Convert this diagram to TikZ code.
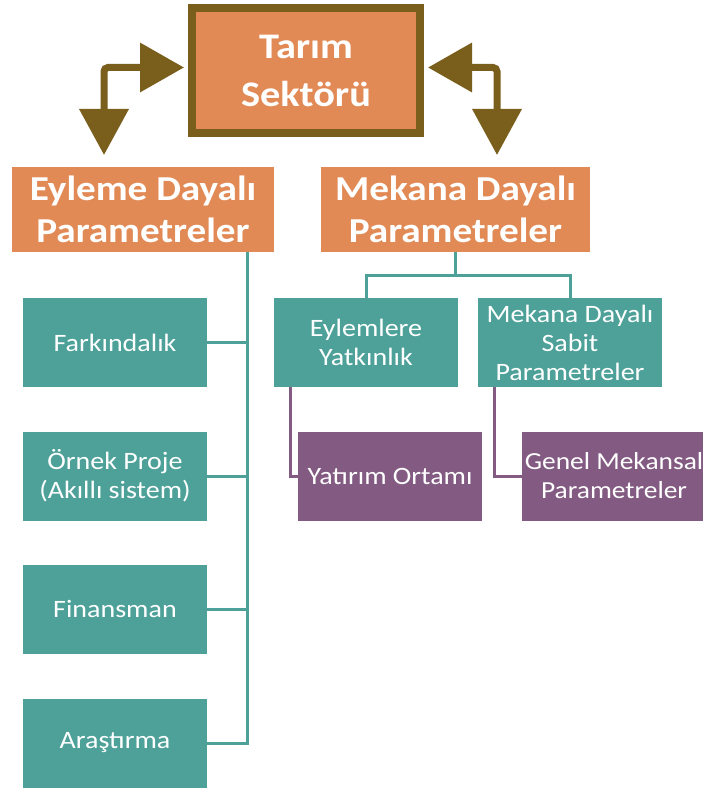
\documentclass[tikz,border=0pt]{standalone}
\usepackage{fontspec}
\setmainfont[FakeStretch=1.12]{Carlito}
\usetikzlibrary{arrows.meta}
\definecolor{orng}{HTML}{E28A55}
\definecolor{brwn}{HTML}{7A5E1C}
\definecolor{tealc}{HTML}{4DA199}
\definecolor{purp}{HTML}{835B82}
\begin{document}
\begin{tikzpicture}[x=1pt,y=-1pt,
  topbox/.style={draw=brwn, line width=8pt, fill=orng, text=white, align=center, inner sep=0pt,
    minimum width=228pt, minimum height=125pt, font=\bfseries\fontsize{36}{48}\selectfont},
  obox/.style={fill=orng, text=white, align=center, inner sep=0pt, minimum height=85pt,
    font=\bfseries\fontsize{35}{42}\selectfont},
  tbox/.style={fill=tealc, text=white, align=center, inner sep=0pt, minimum width=184pt,
    minimum height=89pt, font=\fontsize{25}{29}\selectfont},
  pbox/.style={fill=purp, text=white, align=center, inner sep=0pt, minimum width=184pt,
    minimum height=89pt, font=\fontsize{25}{29}\selectfont},
  tline/.style={draw=tealc, line width=3pt},
  pline/.style={draw=purp, line width=3pt},
  barrow/.style={draw=brwn, line width=7pt, rounded corners=4pt,
    {Triangle[length=44pt,width=48pt]}-{Triangle[length=46pt,width=48pt]}}
]
\useasboundingbox (0,0) rectangle (702,791);

\node[topbox] (top) at (306,70.5) {Tarım\\Sektörü};

\node[obox, minimum width=262pt] (eyl) at (143,209.5) {Eyleme Dayalı\\Parametreler};
\node[obox, minimum width=269pt] (mek) at (455.5,209.5) {Mekana Dayalı\\Parametreler};

% brown double arrows
\coordinate (la) at ([xshift=-4pt,yshift=3pt]top.west);
\coordinate (lt) at (104,155);
\coordinate (ra) at ([xshift=4pt,yshift=3pt]top.east);
\coordinate (rt) at (497,155);
\draw[barrow] (la) -| (lt);
\draw[barrow] (ra) -| (rt);

% left column
\node[tbox] (fark) at (115,342.5) {Farkındalık};
\node[tbox] (ornek) at (115,476) {Örnek Proje\\(Akıllı sistem)};
\node[tbox] (fin) at (115,609) {Finansman};
\node[tbox] (ara) at (115,743) {Araştırma};

\coordinate (lv) at (247,252);
\draw[tline] (lv) |- (ara.east);
\draw[tline] (fark.east) -- (fark.east -| lv);
\draw[tline] (ornek.east) -- (ornek.east -| lv);
\draw[tline] (fin.east) -- (fin.east -| lv);

% right side
\node[tbox] (yat) at (366,342.5) {Eylemlere\\Yatkınlık};
\node[tbox] (sabit) at (570,342.5) {Mekana Dayalı\\Sabit\\Parametreler};

\coordinate (rj) at (455.5,275);
\draw[tline] (mek.south) -- (rj);
\draw[tline] (yat.north) |- (rj) -| (sabit.north);

\node[pbox] (ort) at (390,476) {Yatırım Ortamı};
\node[pbox, font=\fontsize{24.5}{29}\selectfont] (gen) at (614,476) {Genel Mekansal\\Parametreler};

\draw[pline] ([xshift=-76pt]yat.south) |- (ort.west);
\draw[pline] ([xshift=-76pt]sabit.south) |- (gen.west);
\end{tikzpicture}
\end{document}
